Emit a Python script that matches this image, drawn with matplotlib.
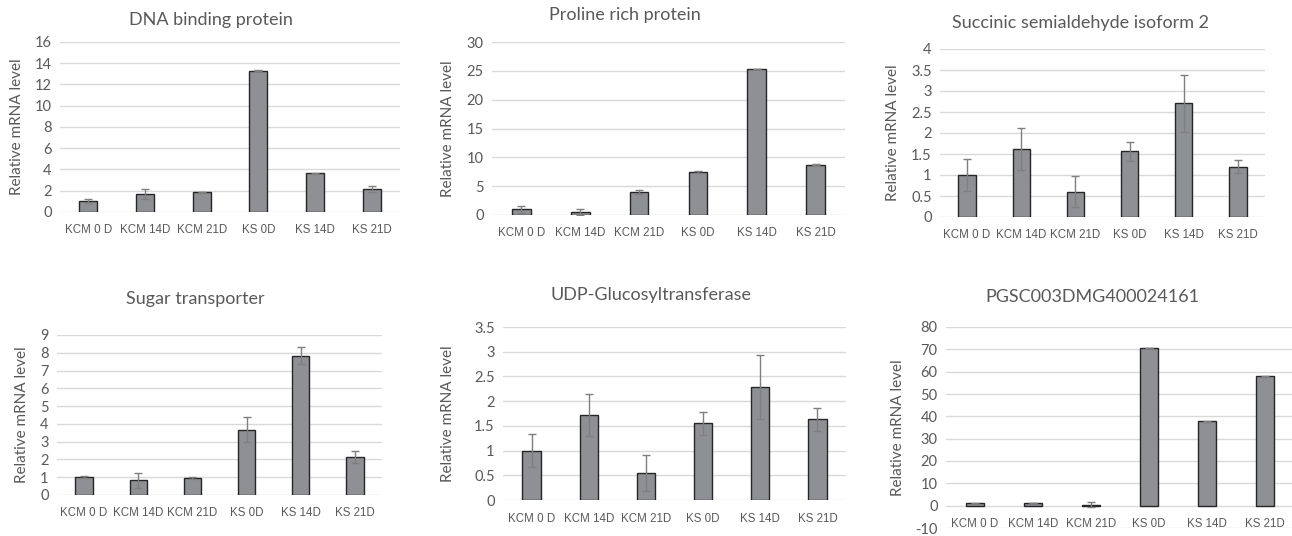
import matplotlib.pyplot as plt

W, H = 1292, 536

categories = ["KCM 0 D", "KCM 14D", "KCM 21D", "KS 0D", "KS 14D", "KS 21D"]

titles = [
    "DNA binding protein",
    "Proline rich protein",
    "Succinic semialdehyde isoform 2",
    "Sugar transporter",
    "UDP-Glucosyltransferase",
    "PGSC003DMG400024161",
]

dna_vals = [1.02, 1.69, 1.84, 13.28, 3.64, 2.16]
dna_err = [0.17, 0.45, 0.05, 0.05, 0.04, 0.27]

proline_vals = [0.98, 0.46, 4.0, 7.47, 25.3, 8.74]
proline_err = [0.65, 0.5, 0.4, 0.15, 0.05, 0.15]

succinic_vals = [1.0, 1.61, 0.6, 1.56, 2.71, 1.2]
succinic_err = [0.39, 0.5, 0.37, 0.22, 0.68, 0.16]

sugar_vals = [1.01, 0.82, 0.96, 3.67, 7.83, 2.12]
sugar_err = [0.07, 0.41, 0.08, 0.7, 0.47, 0.34]

udp_vals = [1.0, 1.72, 0.54, 1.55, 2.29, 1.63]
udp_err = [0.34, 0.43, 0.365, 0.235, 0.65, 0.23]

pgsc_vals = [1.0, 1.2, 0.5, 70.6, 37.8, 58.0]
pgsc_err = [0.3, 0.2, 1.2, 0.2, 0.2, 0.2]

series = [
    (dna_vals, dna_err),
    (proline_vals, proline_err),
    (succinic_vals, succinic_err),
    (sugar_vals, sugar_err),
    (udp_vals, udp_err),
    (pgsc_vals, pgsc_err),
]

y_ranges = [(0, 16, 2), (0, 30, 5), (0, 4, 0.5), (0, 9, 1), (0, 3.5, 0.5), (-10, 80, 10)]

# plot area boxes in pixels: left, right, top, bottom
boxes = [
    (60, 400, 42, 212),
    (492, 845, 42, 215),
    (940, 1265, 49, 217),
    (57, 382, 335, 495),
    (503, 846, 327, 500),
    (946, 1294, 327, 528),
]
title_pos = [(211, 20), (625, 15), (1081, 23), (195, 299), (651, 295), (1092, 297)]
ylabel_x = [17, 448, 893, 22, 448, 898]

TEXT = "#595959"
BAR = "#8f9094"

fig = plt.figure(figsize=(W / 100, H / 100), dpi=100)

for i in range(6):
    l, r, t, b = boxes[i]
    ax = fig.add_axes([l / W, 1 - b / H, (r - l) / W, (b - t) / H])
    vals, err = series[i]
    lo, hi, step = y_ranges[i]
    for s in ax.spines.values():
        s.set_visible(False)
    if lo < 0:
        # category labels sit at the zero line, as in Excel
        ax.spines["bottom"].set_position(("data", 0))
    x = list(range(len(categories)))
    ax.bar(x, vals, width=0.32, color=BAR, edgecolor="#262626", linewidth=1.0, zorder=3)
    ax.errorbar(x, vals, yerr=err, fmt="none", ecolor="#7f7f7f", elinewidth=1.0,
                capsize=3, capthick=1.0, zorder=4)
    ax.set_xlim(-0.5, len(categories) - 0.5)
    ax.set_ylim(lo, hi)
    ticks = []
    v = lo
    while v <= hi + 1e-9:
        ticks.append(v)
        v += step
    ax.set_yticks(ticks)
    ax.set_yticklabels([f"{tk:g}" for tk in ticks], fontsize=10.5, color=TEXT, family="Lato")
    ax.set_xticks(x)
    ax.set_xticklabels(categories, fontsize=8.3, color=TEXT, family="Liberation Sans")
    ax.tick_params(axis="both", length=0)
    ax.tick_params(axis="x", pad=9)
    ax.tick_params(axis="y", pad=6)
    ax.grid(axis="y", color="#d9d9d9", linewidth=1.0, zorder=0)
    ax.set_facecolor("none")

    tx, ty = title_pos[i]
    fig.text(tx / W, 1 - ty / H, titles[i], ha="center", va="center",
             fontsize=13, color=TEXT, family="Lato")
    fig.text(ylabel_x[i] / W, 1 - ((t + b) / 2) / H, "Relative mRNA level",
             rotation=90, ha="center", va="center", fontsize=11, color=TEXT, family="Lato")

fig.savefig("out.png", dpi=100, facecolor="white")
